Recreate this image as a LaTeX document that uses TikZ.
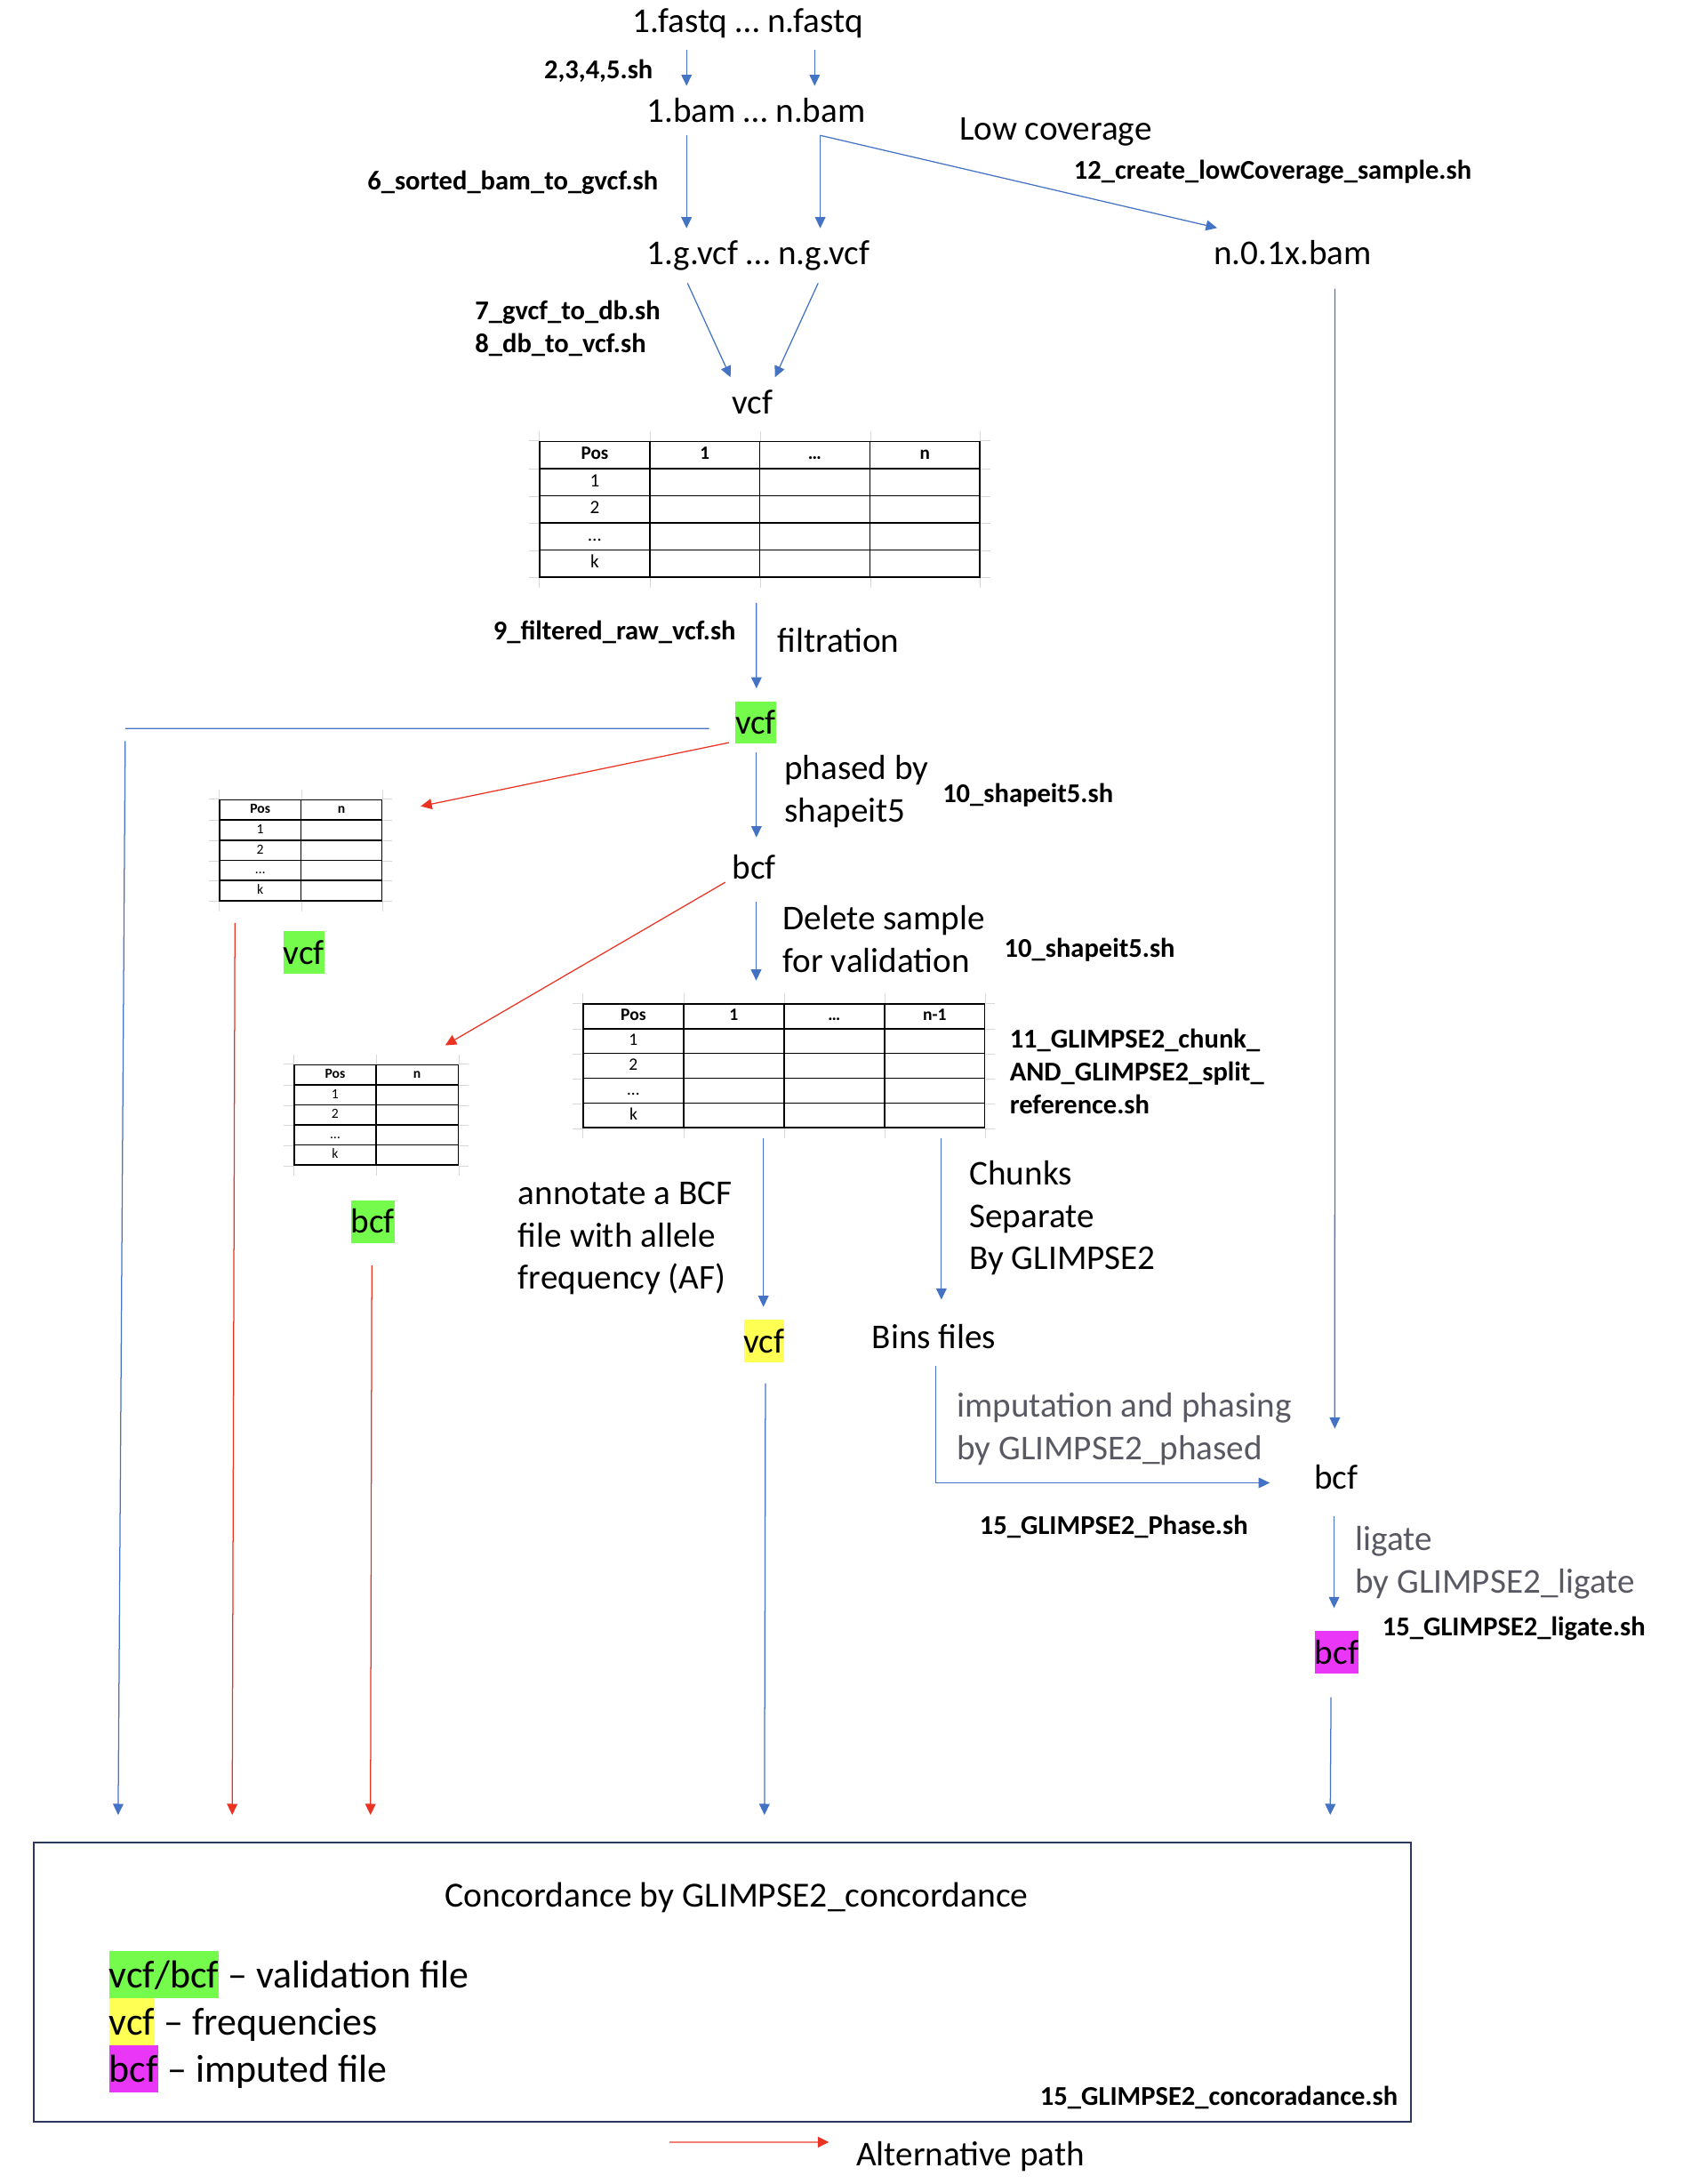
\documentclass[tikz,border=0pt]{standalone}
\usepackage{fontspec}
\setmainfont{Carlito}
\usetikzlibrary{arrows.meta, positioning, matrix, calc}

\definecolor{lineblue}{RGB}{68,114,196}
\definecolor{altred}{RGB}{234,51,35}
\definecolor{altpink}{RGB}{240,128,118}
\definecolor{hlgreen}{RGB}{117,251,76}
\definecolor{hlyellow}{RGB}{255,255,84}
\definecolor{hlpink}{RGB}{234,55,247}
\definecolor{notegray}{RGB}{89,89,99}
\definecolor{boxnavy}{RGB}{44,57,93}
\definecolor{cellgray}{RGB}{215,215,215}

\begin{document}
\begin{tikzpicture}[x=1pt, y=-1pt, auto, >={Triangle[length=8pt, width=7.5pt]}]
    \tikzstyle{file}=[inner sep=0pt, outer sep=9pt, font=\fontsize{25}{30.5}\selectfont]
    \tikzstyle{note}=[inner sep=0pt, align=left, font=\fontsize{25}{30.5}\selectfont]
    \tikzstyle{grey note}=[note, text=notegray]
    \tikzstyle{script}=[inner sep=0pt, align=left, font=\bfseries\fontsize{19.5}{23.6}\selectfont]
    \tikzstyle{hl}=[inner sep=0pt, text height=23.75pt, text depth=6.75pt, font=\fontsize{25}{30.5}\selectfont]
    \tikzstyle{hl big}=[inner sep=0pt, text height=26.6pt, text depth=7.6pt, font=\fontsize{28}{34}\selectfont]
    \tikzstyle{legend}=[inner sep=0pt, font=\fontsize{28}{34}\selectfont]
    \tikzstyle{flow}=[->, lineblue, line width=0.8pt]
    \tikzstyle{alt}=[->, altred, line width=0.8pt]
    \tikzstyle{tbl}=[matrix of nodes, inner sep=0pt, column sep=-1pt, row sep=-1pt, nodes in empty cells, nodes={draw, line width=1pt, inner sep=0pt}]
    \tikzstyle{xgrid}=[cellgray, line width=0.6pt]

    \useasboundingbox (0,0) rectangle (1214.3,1568);

    % files
    \node[file, anchor=base] (fastq) at (537,23) {1.fastq … n.fastq};
    \node[file, anchor=base] (bam) at (543,88) {1.bam … n.bam};
    \node[file, anchor=base] (gvcf) at (544.6,190) {1.g.vcf … n.g.vcf};
    \node[file, anchor=base] (low_bam) at (928.3,190) {n.0.1x.bam};
    \node[file, anchor=base] (vcf_0) at (540.5,297) {vcf};
    \node[hl, fill=hlgreen] (vcf_1) at (542.7,518.7) {vcf};
    \node[file, anchor=base] (bcf_p) at (541.5,631) {bcf};
    \node[hl, fill=hlgreen] (vcf_a) at (218.2,684) {vcf};
    \node[hl, fill=hlgreen] (bcf_b) at (267.7,877) {bcf};
    \node[hl, fill=hlyellow] (vcf_y) at (548.7,962.7) {vcf};
    \node[file, anchor=base] (bins) at (670.7,968) {Bins files};
    \node[file, anchor=base] (bcf_i) at (959.5,1069) {bcf};
    \node[hl, fill=hlpink] (bcf_m) at (959.9,1186.4) {bcf};

    % tables
    \matrix (tab_1) [tbl, nodes={minimum width=79pt, minimum height=19.5pt, text height=9.5pt, text depth=3pt, font=\fontsize{13.5}{15}\selectfont},
        row 1/.style={nodes={font=\bfseries\fontsize{13.5}{15}\selectfont}}] at (545.6,365.6) {
        Pos & 1 & … & n \\
        1 & & & \\
        2 & & & \\
        … & & & \\
        k & & & \\
    };
    \matrix (tab_a) [tbl, nodes={minimum width=58.3pt, minimum height=14.5pt, text height=7pt, text depth=2pt, font=\fontsize{10}{11}\selectfont},
        row 1/.style={nodes={font=\bfseries\fontsize{10}{11}\selectfont}}] at (216,610.4) {
        Pos & n \\
        1 & \\
        2 & \\
        … & \\
        k & \\
    };
    \matrix (tab_b) [tbl, nodes={minimum width=58.9pt, minimum height=14.4pt, text height=7pt, text depth=2pt, font=\fontsize{10}{11}\selectfont},
        row 1/.style={nodes={font=\bfseries\fontsize{10}{11}\selectfont}}] at (270.1,800.5) {
        Pos & n \\
        1 & \\
        2 & \\
        … & \\
        k & \\
    };
    \matrix (tab_c) [tbl, nodes={minimum width=72.1pt, minimum height=17.8pt, text height=8.8pt, text depth=2.8pt, font=\fontsize{12.5}{14}\selectfont},
        row 1/.style={nodes={font=\bfseries\fontsize{12.5}{14}\selectfont}}] at (563,765.2) {
        Pos & 1 & … & n-1 \\
        1 & & & \\
        2 & & & \\
        … & & & \\
        k & & & \\
    };
    \foreach \t/\nc in {tab_1/4, tab_c/4, tab_a/2, tab_b/2} {
        \foreach \r in {1,...,5}
            \draw[xgrid] (\t-\r-1.south west) -- +(-7,0) (\t-\r-\nc.south east) -- +(7,0);
        \foreach \c in {1,...,\nc}
            \draw[xgrid] (\t-1-\c.north east) -- +(0,-7) (\t-5-\c.south east) -- +(0,7);
        \draw[xgrid] (\t-1-1.north west) -- +(-7,0) (\t-1-\nc.north east) -- +(7,0)
                     (\t-1-1.north west) -- +(0,-7) (\t-5-1.south west) -- +(0,7);
    }

    % notes
    \node[note, anchor=base] (low_cov) at (758,100.7) {Low coverage};
    \node[note, anchor=base] (filt) at (602,468) {filtration};
    \node[note, anchor=west] (phased) at (563,568) {phased by\\shapeit5};
    \node[note, anchor=west] (del) at (562,674) {Delete sample\\for validation};
    \node[note, anchor=west] (annot) at (372,889) {annotate a BCF\\file with allele\\frequency (AF)};
    \node[note, anchor=west] (chunks) at (696,874.5) {Chunks\\Separate\\By GLIMPSE2};
    \node[grey note, anchor=west] (impute) at (687,1026) {imputation and phasing\\by GLIMPSE2\_phased};
    \node[grey note, anchor=west] (lig) at (973,1122) {ligate\\by GLIMPSE2\_ligate};

    % scripts
    \node[script, anchor=base east] (sh_2345) at (469,56.5) {2,3,4,5.sh};
    \node[script, anchor=base east] (sh_6) at (472.8,136) {6\_sorted\_bam\_to\_gvcf.sh};
    \node[script, anchor=base west] (sh_12) at (771,128.5) {12\_create\_lowCoverage\_sample.sh};
    \node[script, anchor=west] (sh_78) at (341,236) {7\_gvcf\_to\_db.sh\\8\_db\_to\_vcf.sh};
    \node[script, anchor=base east] (sh_9) at (528.6,459.5) {9\_filtered\_raw\_vcf.sh};
    \node[script, anchor=base west] (sh_10a) at (676.7,576) {10\_shapeit5.sh};
    \node[script, anchor=base west] (sh_10b) at (721,687.3) {10\_shapeit5.sh};
    \node[script, anchor=west] (sh_11) at (724.9,769) {11\_GLIMPSE2\_chunk\_\\AND\_GLIMPSE2\_split\_\\reference.sh};
    \node[script, anchor=base west] (sh_15p) at (703.3,1101.8) {15\_GLIMPSE2\_Phase.sh};
    \node[script, anchor=base west] (sh_15l) at (992.5,1174.5) {15\_GLIMPSE2\_ligate.sh};

    % concordance box
    \node[draw=boxnavy, line width=1.3pt, minimum width=989pt, minimum height=200pt, inner sep=0pt] (conc) at (518.5,1423) {};
    \node[note, anchor=base] (conc_t) at (529,1369) {\fontsize{25.3}{30.5}\selectfont Concordance by GLIMPSE2\_concordance};
    \node[hl big, fill=hlgreen, anchor=west] (lg_v) at (78.3,1417.6) {vcf/bcf};
    \node[legend, anchor=base west] (lg_vt) at (lg_v.base east) {\ – validation file};
    \node[hl big, fill=hlyellow, anchor=west] (lg_f) at (78.3,1451.8) {vcf};
    \node[legend, anchor=base west] (lg_ft) at (lg_f.base east) {\ – frequencies};
    \node[hl big, fill=hlpink, anchor=west] (lg_i) at (78.3,1485.4) {bcf};
    \node[legend, anchor=base west] (lg_it) at (lg_i.base east) {\ – imputed file};
    \node[script, anchor=base east] (sh_15c) at (1003.9,1511.5) {15\_GLIMPSE2\_concoradance.sh};
    \node[note, anchor=base west] (alt_t) at (614.7,1555) {Alternative path};

    \coordinate (l_turn) at (89.9,523.1);

    \path[flow]
    ([xshift=-44pt]fastq.south) edge ([xshift=-50pt]bam.north)
    ([xshift=48pt]fastq.south) edge ([xshift=42pt]bam.north)

    ([xshift=-50pt]bam.south) edge ([xshift=-51.6pt]gvcf.north)
    ([xshift=46pt]bam.south) edge ([xshift=44.4pt]gvcf.north)
          edge ([xshift=-54.3pt]low_bam.north)

    ([xshift=-50.9pt]gvcf.south) edge ([xshift=-15.9pt]vcf_0.north)
    ([xshift=42.9pt]gvcf.south) edge ([xshift=16pt]vcf_0.north)

    ([xshift=30.3pt]low_bam.south) edge[shorten <=8pt, shorten >=17pt] ([xshift=-1pt]bcf_i.north)

    ([xshift=-2.4pt]tab_1.south) edge[shorten <=17.8pt, shorten >=9pt] ([xshift=0.5pt]vcf_1.north)

    ([xshift=0.5pt]vcf_1.south) edge[shorten <=6pt, shorten >=3.5pt] ([xshift=1.7pt]bcf_p.north)

    ([xshift=1.5pt]bcf_p.south) edge[shorten <=7pt, shorten >=16pt] ([xshift=-20pt]tab_c.north)

    ([xshift=-14.8pt]tab_c.south) edge[shorten <=6.7pt, shorten >=9pt] ([xshift=-0.5pt]vcf_y.north)
    ([xshift=113pt]tab_c.south) edge[shorten <=6.7pt, shorten >=8.6pt] ([xshift=5.3pt]bins.north)

    ([xshift=1pt]vcf_y.south) edge[shorten <=15pt] ([shift={(525.6,-19.3)}]conc.north west)

    ([xshift=-1.5pt]bcf_i.south) edge[shorten <=10.6pt, shorten >=16.4pt] ([xshift=-1.9pt]bcf_m.north)
    ([xshift=-4pt]bcf_m.south) edge[shorten <=16.7pt] ([shift={(931.9,-19.3)}]conc.north west)

    ([yshift=-9pt]l_turn) edge ([shift={(61.5,-19.3)}]conc.north west);

    \draw[lineblue, line width=0.8pt] ([shift={(-18.7,4.4)}]vcf_1.west) -- (l_turn);
    \draw[flow] ([shift={(1.2,3.6)}]bins.south) |- ([shift={(-23,4.2)}]bcf_i.west);

    \path[alt]
    ([shift={(-4.4,-1)}]vcf_1.south west) edge ([shift={(27.1,5.4)}]tab_a.north east)
    ([shift={(-47.3,15.3)}]tab_a.south) edge ([shift={(143.4,-19.3)}]conc.north west)
    ([shift={(4,11)}]bcf_p.west) edge ([shift={(-10,-13.3)}]tab_b.north east)
    ([shift={(-0.7,16)}]bcf_b.south) edge ([shift={(242.7,-19.3)}]conc.north west);

    \draw[altpink, line width=1.2pt, -{Triangle[length=8pt, width=7.5pt, color=altred]}]
    ([shift={(-134.1,-10.4)}]alt_t.west) -- ([shift={(-19.4,-10.4)}]alt_t.west);
\end{tikzpicture}
\end{document}
